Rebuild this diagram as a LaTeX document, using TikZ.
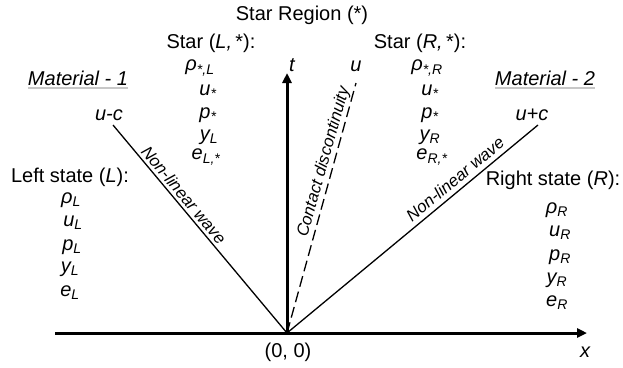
\documentclass[tikz,border=0pt]{standalone}
\usepackage{fontspec}
\setmainfont{Liberation Sans}
\usetikzlibrary{arrows.meta}
\newcommand\vsub[2]{#1\textsubscript{#2}}
\begin{document}
\begin{tikzpicture}[x=1pt,y=-1pt,
  lbl/.style={font=\fontsize{20}{23}\selectfont, inner sep=0pt},
  var/.style={font=\fontsize{20}{23}\selectfont\itshape, inner sep=0pt},
  wavelbl/.style={font=\fontsize{16.8}{20}\selectfont\itshape, inner sep=0pt},
  axis/.style={line width=3pt, -{Triangle[length=10pt,width=9pt]}},
  wave/.style={line width=1.3pt},
  contact/.style={line width=1.3pt, dash pattern=on 11pt off 5pt},
  uline/.style={draw=black!22, line width=1.4pt}]
\useasboundingbox (0,0) rectangle (623,367);
% axes
\coordinate (O) at (287,333);
\coordinate (Xs) at (55,333);
\coordinate (Xe) at (587,333);
\coordinate (Te) at (287,73);
\coordinate (Lt) at (113,125);
\coordinate (Rt) at (538,125);
\coordinate (Ct) at (356,83);
\draw[wave] (O) -- (Lt);
\draw[wave] (O) -- (Rt);
\draw[contact] (O) -- (Ct);
\draw[axis] (Xs) -- (Xe);
\draw[axis] (O) -- (Te);
% axis labels
\node[var] (tl) at (292,65) {t};
\node[var] (xl) at (585,352) {x};
\node[lbl] (orig) at (288,352) {(0, 0)};
% wave labels
\node[var] (lu) at (109,115) {u-c};
\node[var] (ru) at (532,115) {u+c};
\node[var] (cu) at (356,66) {u};
\node[wavelbl, rotate=-50.1] (lw) at (184,195) {Non-linear wave};
\node[wavelbl, rotate=39.6] (rw) at (455,179) {Non-linear wave};
\node[wavelbl, rotate=74.2] (cw) at (324,162) {Contact discontinuity};
% titles
\node[lbl] (sr) at (302,15) {Star Region (*)};
\node[lbl] (sl) at (211,43) {Star (\textit{L,}\,*):};
\node[lbl] (srr) at (420,43) {Star (\textit{R,}\,*):};
\node[lbl] (ls) at (70,177) {Left state (\textit{L}):};
\node[lbl] (rs) at (553,180) {Right state (\textit{R}):};
\node[var] (m1) at (78,78) {Material - 1};
\node[var] (m2) at (545,78) {Material - 2};
\draw[uline] ([yshift=-2.5pt]m1.south west) -- ([yshift=-2.5pt]m1.south east);
\draw[uline] ([yshift=-2.5pt]m2.south west) -- ([yshift=-2.5pt]m2.south east);
% star L
\node[var] (a1) at (200,68) {\vsub{ρ}{*,L}};
\node[var] (a2) at (208,92) {\vsub{u}{*}};
\node[var] (a3) at (208,115) {\vsub{p}{*}};
\node[var] (a4) at (209,137) {\vsub{y}{L}};
\node[var] (a5) at (206,157) {\vsub{e}{L,*}};
% star R
\node[var] (b1) at (427,68) {\vsub{ρ}{*,R}};
\node[var] (b2) at (430,92) {\vsub{u}{*}};
\node[var] (b3) at (430,115) {\vsub{p}{*}};
\node[var] (b4) at (430,137) {\vsub{y}{R}};
\node[var] (b5) at (432,157) {\vsub{e}{R,*}};
% left state
\node[var] (c1) at (71,200) {\vsub{ρ}{L}};
\node[var] (c2) at (73,223) {\vsub{u}{L}};
\node[var] (c3) at (72,247) {\vsub{p}{L}};
\node[var] (c4) at (70,269) {\vsub{y}{L}};
\node[var] (c5) at (70,293) {\vsub{e}{L}};
% right state
\node[var] (d1) at (557,210) {\vsub{ρ}{R}};
\node[var] (d2) at (560,233) {\vsub{u}{R}};
\node[var] (d3) at (560,257) {\vsub{p}{R}};
\node[var] (d4) at (557,280) {\vsub{y}{R}};
\node[var] (d5) at (557,303) {\vsub{e}{R}};
\end{tikzpicture}
\end{document}
